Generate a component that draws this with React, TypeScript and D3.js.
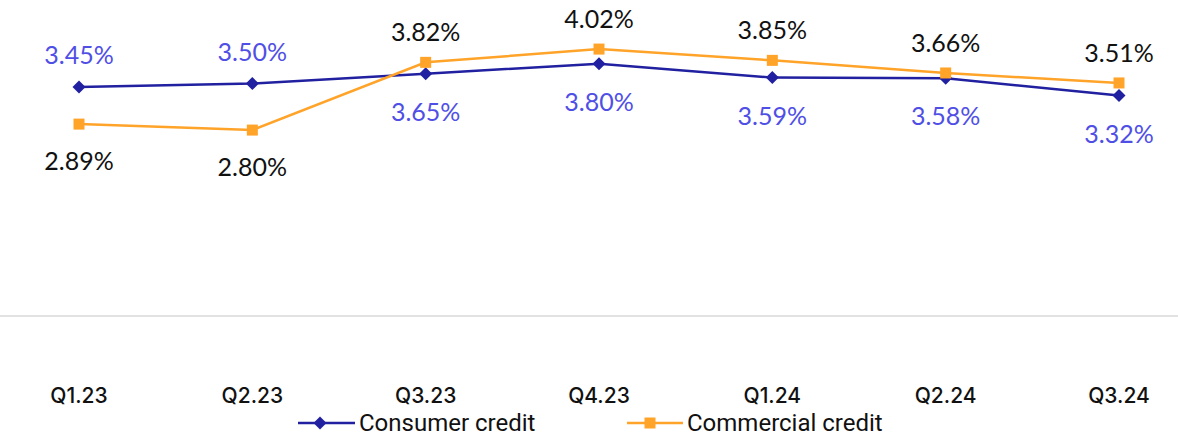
import React from "react";
import * as d3 from "d3";

const categories = ["Q1.23", "Q2.23", "Q3.23", "Q4.23", "Q1.24", "Q2.24", "Q3.24"];
const consumer = [3.45, 3.5, 3.65, 3.8, 3.59, 3.58, 3.32];
const commercial = [2.89, 2.8, 3.82, 4.02, 3.85, 3.66, 3.51];
const seriesNames = ["Consumer credit", "Commercial credit"];

const W = 1178;
const H = 437;
const CONS = "#2020a0";
const CONS_LABEL = "#4f4fe6";
const COMM = "#ffa329";

export default function App() {
  const x = d3.scalePoint<string>().domain(categories).range([79, 1119]);
  const y = d3.scaleLinear().domain([0, 4.5]).range([316, 17.2]);
  const line = d3
    .line<number>()
    .x((_, i) => x(categories[i]) as number)
    .y((d) => y(d));
  const fmt = (v: number) => v.toFixed(2) + "%";
  const labelFont = "Lato, 'Noto Sans', sans-serif";
  const ly = 423;

  return (
    <svg
      width={W}
      height={H}
      style={{ position: "absolute", left: 0, top: 0, background: "#fff" }}
    >
      <line x1={0} x2={W} y1={y(0)} y2={y(0)} stroke="#d9d9d9" strokeWidth={1.5} />
      <path d={line(consumer) || ""} fill="none" stroke={CONS} strokeWidth={2.5} />
      <path d={line(commercial) || ""} fill="none" stroke={COMM} strokeWidth={2.5} />
      {consumer.map((v, i) => {
        const cx = x(categories[i]) as number;
        const cy = y(v);
        return (
          <path
            key={"cd" + i}
            d={`M${cx},${cy - 6.5}L${cx + 6.5},${cy}L${cx},${cy + 6.5}L${cx - 6.5},${cy}Z`}
            fill={CONS}
          />
        );
      })}
      {commercial.map((v, i) => {
        const cx = x(categories[i]) as number;
        const cy = y(v);
        return <rect key={"cm" + i} x={cx - 5.5} y={cy - 5.5} width={11} height={11} fill={COMM} />;
      })}
      {consumer.map((v, i) => {
        const above = v > commercial[i];
        const cx = x(categories[i]) as number;
        const cy = y(v) + (above ? -33 : 37);
        return (
          <text
            key={"cl" + i}
            x={cx}
            y={cy}
            textAnchor="middle"
            dominantBaseline="central"
            fontFamily={labelFont}
            fontSize={25}
            fill={CONS_LABEL}
          >
            {fmt(v)}
          </text>
        );
      })}
      {commercial.map((v, i) => {
        const above = v > consumer[i];
        const cx = x(categories[i]) as number;
        const cy = y(v) + (above ? -31 : 36);
        return (
          <text
            key={"ml" + i}
            x={cx}
            y={cy}
            textAnchor="middle"
            dominantBaseline="central"
            fontFamily={labelFont}
            fontSize={25}
            fill="#111"
          >
            {fmt(v)}
          </text>
        );
      })}
      {categories.map((c) => (
        <text
          key={c}
          x={x(c) as number}
          y={395}
          textAnchor="middle"
          dominantBaseline="central"
          fontFamily="Inter, sans-serif"
          fontSize={21}
          fontWeight={500}
          fill="#111"
        >
          {c}
        </text>
      ))}
      <g>
        <line x1={298} x2={355} y1={ly} y2={ly} stroke={CONS} strokeWidth={2.5} />
        <path d={`M320,${ly - 6.5}L326.5,${ly}L320,${ly + 6.5}L313.5,${ly}Z`} fill={CONS} />
        <text x={359} y={ly} dominantBaseline="central" fontFamily="Roboto, sans-serif" fontSize={24} fill="#111">
          {seriesNames[0]}
        </text>
        <line x1={627} x2={683} y1={ly} y2={ly} stroke={COMM} strokeWidth={2.5} />
        <rect x={644.5} y={ly - 5.5} width={11} height={11} fill={COMM} />
        <text x={687} y={ly} dominantBaseline="central" fontFamily="Roboto, sans-serif" fontSize={24} fill="#111">
          {seriesNames[1]}
        </text>
      </g>
    </svg>
  );
}
